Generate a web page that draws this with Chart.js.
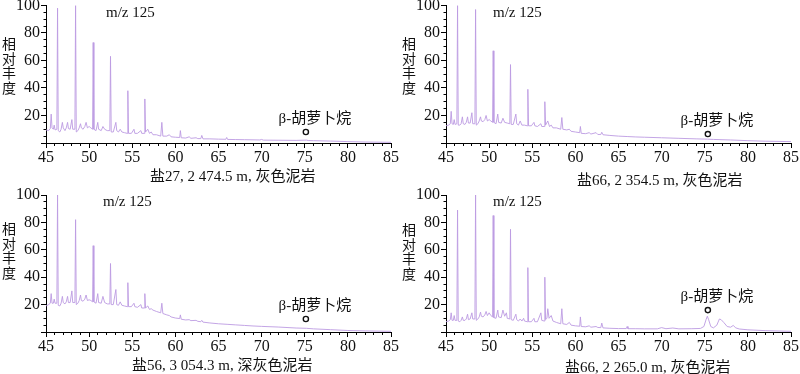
<!DOCTYPE html>
<html>
<head>
<meta charset="utf-8">
<script src="https://cdn.jsdelivr.net/npm/chart.js@4"></script>
<style>
  html, body { margin: 0; padding: 0; background: #fff; }
  #wrap { position: relative; width: 800px; height: 374px; overflow: hidden; }
  #wrap canvas { position: absolute; }
</style>
</head>
<body>
<div id="wrap">
  <canvas id="c1" width="400" height="187" style="left:0;top:0"></canvas>
  <canvas id="c2" width="400" height="187" style="left:400px;top:0"></canvas>
  <canvas id="c3" width="400" height="187" style="left:0;top:187px"></canvas>
  <canvas id="c4" width="400" height="187" style="left:400px;top:187px"></canvas>
</div>
<script>
// retention time (min) and relative abundance, m/z 125
const rt1 = [45.0,45.3,45.5,45.6,45.7,45.85,45.95,46.05,46.26,46.34,46.42,46.6,46.75,46.9,47.0,47.2,47.35,47.5,47.6,47.8,48.0,48.1,48.35,48.43,48.51,48.7,48.85,49.0,49.1,49.3,49.5,49.65,49.8,50.0,50.2,50.4,50.47,50.55,50.8,51.0,51.1,51.4,51.6,51.8,52.1,52.4,52.48,52.56,52.8,53.1,53.2,53.4,53.6,53.8,54.1,54.42,54.49,54.57,54.9,55.2,55.3,55.6,56.0,56.1,56.39,56.46,56.54,56.8,57.0,57.2,57.4,57.8,58.3,58.43,58.55,59.0,59.3,59.5,60.0,60.5,60.58,60.68,61.2,61.6,61.8,62.4,62.6,62.95,63.06,63.2,64.0,65.0,65.85,65.95,66.05,67.0,68.0,69.0,69.8,70.0,70.2,72.0,74.0,75.2,75.4,76.0,78.0,80.0,82.0,85.0];
const ab1 = [9.5,9,10.5,21,11,10,13,9.5,10,98,9,8,10,15,11,9,11,15,10.5,10,17,10,10,100,8,9,11,14,11,10,12,15,11,12,11,10,73,10,9,15,10,9,12,10,9,9,63,8,8,15,9,8,10,8,7.5,7,38,7,7,10,7,7,9,7,7,32,8,10,7,8,6,6,5,15,5,5,6,4.5,4.2,4,9,3.8,3.6,4.5,3.4,3.8,3.2,3.2,5.5,3,3,2.8,2.7,4,2.6,2.5,2.4,2.3,2.2,2.6,2.1,2.0,1.9,2.1,1.8,1.7,1.4,1.0,0.7,0.5];

const rt2 = [45.0,45.3,45.5,45.6,45.7,45.85,45.95,46.05,46.26,46.34,46.42,46.6,46.75,46.9,47.0,47.2,47.35,47.5,47.6,47.8,48.0,48.1,48.35,48.43,48.51,48.7,48.85,49.0,49.1,49.3,49.5,49.65,49.8,50.0,50.2,50.4,50.47,50.55,50.8,51.0,51.1,51.4,51.6,51.8,52.1,52.4,52.48,52.56,52.8,53.1,53.2,53.4,53.6,53.8,54.1,54.42,54.49,54.57,54.9,55.2,55.3,55.6,56.0,56.1,56.39,56.46,56.54,56.8,57.0,57.2,57.4,57.8,58.3,58.43,58.55,59.0,59.3,59.5,60.0,60.5,60.58,60.68,61.2,61.6,61.8,62.4,62.6,62.95,63.06,63.2,64.0,65.0,66.0,67.0,68.0,69.0,70.0,72.0,74.0,75.3,76.0,78.0,80.0,82.0,85.0];
const ab2 = [12.5,13,14,23,14,13.5,17,13.5,14,100,13,13,14,19,14,13.5,15,19,14.5,14.5,22,14,14,97,13,14,16,19,16,15.5,17,20,16,17,16,15,67,15,14,21,15,14.5,18,15,14.5,14,57,13.5,13.5,21,14,13,16,13,13,12.5,39,12.5,12.5,15,12.5,12,14,12,12,30,13,16,12,13,11,11,10,18.5,10,9.5,10,8.5,8,7.5,12,7,6.8,7.5,6.5,7.5,6.2,6.2,7.8,6,5.5,5,4.7,4.4,4.2,4,3.8,3.4,3,2.8,2.6,2.2,1.7,1.3,1.0];

const rt3 = [45.0,45.3,45.5,45.6,45.7,45.85,45.95,46.05,46.26,46.34,46.42,46.6,46.75,46.9,47.0,47.2,47.35,47.5,47.6,47.8,48.0,48.1,48.35,48.43,48.51,48.7,48.85,49.0,49.1,49.3,49.5,49.65,49.8,50.0,50.2,50.4,50.47,50.55,50.8,51.0,51.1,51.4,51.6,51.8,52.1,52.4,52.48,52.56,52.8,53.1,53.2,53.4,53.6,53.8,54.1,54.42,54.49,54.57,54.9,55.2,55.3,55.6,56.0,56.1,56.39,56.46,56.54,56.8,57.0,57.2,57.4,57.8,58.3,58.43,58.55,59.0,59.3,59.5,60.0,60.5,60.58,60.68,61.2,61.6,61.8,62.4,62.6,62.95,63.06,63.2,64.0,65.0,66.0,67.0,68.0,69.0,70.0,72.0,74.0,75.2,76.0,78.0,80.0,82.0,85.0];
const ab3 = [19,20,21,28,21,21,24,21,21,100,19.5,19,21,26,21.5,20.5,22,26,21.5,21.5,30,21.5,21.5,82,20,21,23,27,23,22.5,24,27,23,23.5,23,22,63,22,21,28,21.5,21,26,21.5,20.5,20.5,50,20,20,31,20,19.5,22,19.5,19,18.5,36,18.5,18.5,21,18.5,18,20,17.5,17.5,28,17.5,19,16.5,17,16,15,14,21,13.5,12.5,12,11,10.2,9.8,12.5,9.3,8.8,9,8.3,8.5,7.8,7.5,8.5,7.2,6.6,6,5.6,5.2,4.8,4.4,4.1,3.6,2.9,2.7,2.3,1.7,1.1,0.8,0.5];

const rt4 = [45.0,45.3,45.5,45.6,45.7,45.85,45.95,46.05,46.26,46.34,46.42,46.6,46.75,46.9,47.0,47.2,47.35,47.5,47.6,47.8,48.0,48.1,48.35,48.43,48.51,48.7,48.85,49.0,49.1,49.3,49.5,49.65,49.8,50.0,50.2,50.4,50.47,50.55,50.8,51.0,51.1,51.4,51.6,51.8,52.0,52.1,52.4,52.48,52.56,52.8,53.1,53.2,53.4,53.6,53.8,54.0,54.1,54.42,54.49,54.57,54.9,55.2,55.3,55.6,56.0,56.1,56.39,56.46,56.54,56.7,56.8,56.95,57.2,57.4,57.8,58.3,58.43,58.55,59.0,59.3,59.5,60.0,60.5,60.58,60.68,61.2,61.6,61.8,62.4,62.6,62.95,63.06,63.2,64.0,65.0,65.9,66.0,66.1,67.0,68.0,69.5,70.0,70.5,71.3,72.0,73.5,74.5,74.9,75.15,75.3,75.45,75.7,76.0,76.4,76.7,76.9,77.2,77.6,78.0,78.3,78.6,79.0,80.0,82.0,85.0];
const ab4 = [7.5,8,9,14,8.5,8.5,12,8.5,8.5,89,8,7.5,8.5,11,8.5,8.5,9.5,13,9,9.5,14,9.5,9.5,100,8.5,9.5,11,14.5,11.5,11,12.5,15,12,14,12,11,85,10.5,10,16,11,10.5,16,11.5,14,10,9.5,75,9,8.5,13,9,8,9.5,8,10,8,7.5,47,7.5,7.5,10,7.5,7.5,14,8.5,8,40,9,10,17,10,12,8,7,6,17,6,5.5,7,5,4.5,4.2,11,4,3.8,4.5,3.5,4,3.3,3.2,6.5,3,2.7,2.5,2.5,4,2.4,2.4,2.3,2.3,3.2,2.4,2.9,2.3,2.4,2.6,4,9,11.5,9,4,3,5,9.5,9,7,4,3.5,4.8,3,2.2,1.6,1.0,0.5];

// β-胡萝卜烷 marker (retention time, abundance)
const markX = [75.13, 75.36, 75.13, 75.36];
const markY = [8, 6.5, 9.5, 16];

const captions = ['盐27, 2 474.5 m, 灰色泥岩', '盐66, 2 354.5 m, 灰色泥岩', '盐56, 3 054.3 m, 深灰色泥岩', '盐66, 2 265.0 m, 灰色泥岩'];
const ionLabel = 'm/z 125';
const markLabel = 'β-胡萝卜烷';
const yTitle = ['相', '对', '丰', '度'];

const rts = [rt1, rt2, rt3, rt4];
const abs = [ab1, ab2, ab3, ab4];

// positions of the free texts inside each 400x187 canvas
const looks = [
    { top: 5, xh: 44, mz: [106, 13], cap: [150, 177], yt: 44 },
    { top: 5, xh: 44, mz: [93, 13], cap: [177, 181], yt: 44 },
    { top: 8, xh: 42, mz: [103, 15], cap: [132, 179], yt: 42 },
    { top: 8, xh: 42, mz: [93, 15], cap: [165, 181], yt: 43 }
];

const serif = '"Liberation Serif", "Noto Sans CJK SC", serif';
const lineColor = 'rgba(188, 155, 226, 0.9)';

const textPlugin = {
    id: 'panelText',
    afterDraw(chart, args, o) {
        const ctx = chart.ctx;
        ctx.save();
        ctx.fillStyle = '#111';
        ctx.textBaseline = 'middle';
        ctx.textAlign = 'left';
        ctx.font = '15px ' + serif;
        ctx.fillText(ionLabel, o.mz[0], o.mz[1]);
        ctx.fillText(o.caption, o.cap[0], o.cap[1]);
        // vertical y title
        ctx.textAlign = 'center';
        ctx.font = '14px "Noto Sans CJK SC"';
        yTitle.forEach((ch, i) => ctx.fillText(ch, 9, o.yt + i * 14.5));
        // marker label
        const pt = chart.getDatasetMeta(1).data[0];
        ctx.font = '15px ' + serif;
        ctx.fillText(markLabel, pt.x + 9, pt.y - 13);
        ctx.restore();
    }
};

function makePanel(id, i) {
    const lk = looks[i];
    const tickFont = { family: serif, size: 16 };
    new Chart(document.getElementById(id), {
        type: 'line',
        data: {
            datasets: [{
                data: rts[i].map((x, k) => ({ x: x, y: abs[i][k] })),
                borderColor: lineColor,
                borderWidth: 1,
                pointRadius: 0,
                tension: 0,
                xAxisID: 'x',
                yAxisID: 'y'
            }, {
                data: [{ x: markX[i], y: markY[i] }],
                showLine: false,
                pointRadius: 2.6,
                pointBorderWidth: 1.4,
                pointBorderColor: '#111',
                pointBackgroundColor: '#fff',
                xAxisID: 'x',
                yAxisID: 'y',
                clip: false
            }]
        },
        options: {
            responsive: false,
            animation: false,
            events: [],
            layout: { padding: { left: 0, right: 9, top: lk.top, bottom: 0 } },
            plugins: {
                legend: { display: false },
                tooltip: { enabled: false },
                panelText: { caption: captions[i], mz: lk.mz, cap: lk.cap, yt: lk.yt }
            },
            scales: {
                x: {
                    type: 'linear', min: 45, max: 85, position: 'bottom', weight: 1,
                    border: { color: '#000', width: 1 },
                    grid: { drawOnChartArea: false, tickLength: 5, color: '#000' },
                    ticks: { stepSize: 5, autoSkip: false, maxRotation: 0, padding: 0, color: '#111', font: tickFont },
                    afterFit: s => { s.height = lk.xh; s.paddingLeft = 0; s.paddingRight = 0; }
                },
                xm: {
                    type: 'linear', min: 45, max: 85, position: 'bottom', weight: 0,
                    border: { display: false },
                    grid: { drawOnChartArea: false, tickLength: 3, color: '#000' },
                    ticks: { display: false, stepSize: 1, autoSkip: false },
                    afterFit: s => { s.height = 0; s.paddingLeft = 0; s.paddingRight = 0; }
                },
                y: {
                    type: 'linear', min: 0, max: 100, position: 'left', weight: 1,
                    border: { color: '#000', width: 1 },
                    grid: { drawOnChartArea: false, tickLength: 5, color: '#000' },
                    ticks: { stepSize: 20, autoSkip: false, padding: 1, color: '#111', font: tickFont,
                        callback: v => (v === 0 ? '' : v) },
                    afterFit: s => { s.width = 46; s.paddingTop = 0; s.paddingBottom = 0; }
                },
                ym: {
                    type: 'linear', min: 0, max: 100, position: 'left', weight: 0,
                    border: { display: false },
                    grid: { drawOnChartArea: false, tickLength: 2.5, color: '#000' },
                    ticks: { display: false, stepSize: 5, autoSkip: false },
                    afterFit: s => { s.width = 0; s.paddingTop = 0; s.paddingBottom = 0; }
                }
            }
        },
        plugins: [textPlugin]
    });
}

['c1', 'c2', 'c3', 'c4'].forEach(makePanel);
</script>
</body>
</html>
